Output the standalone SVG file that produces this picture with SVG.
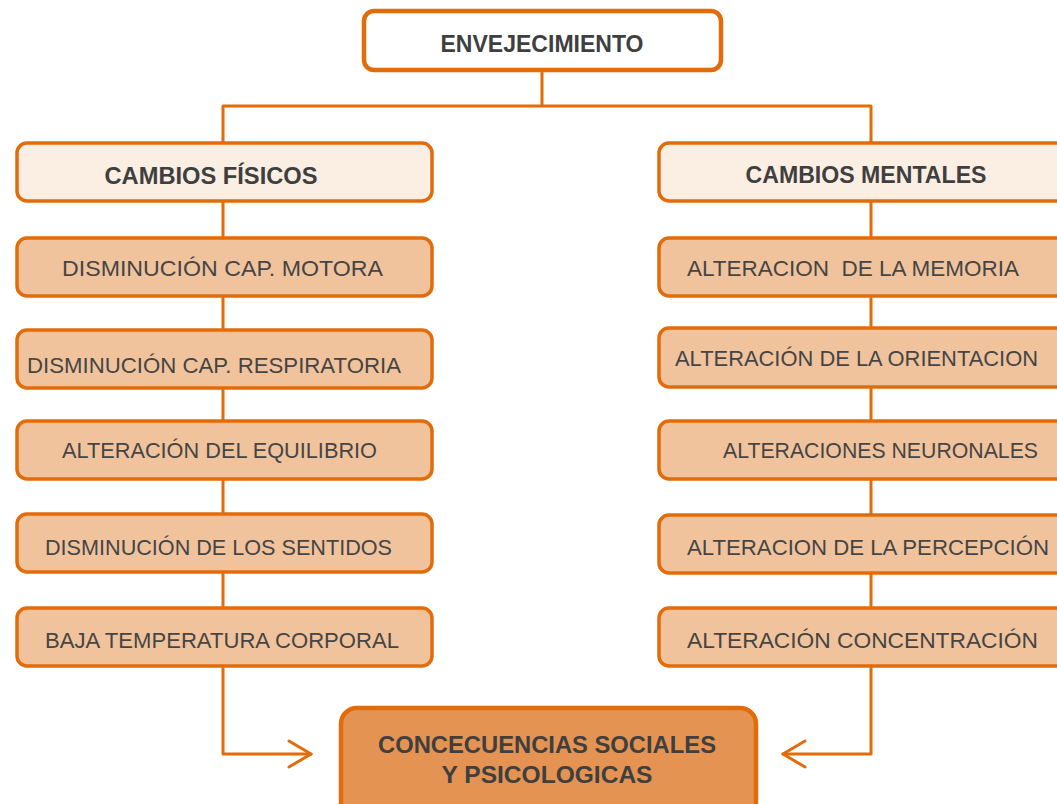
<svg xmlns="http://www.w3.org/2000/svg" width="1057" height="804" viewBox="0 0 1057 804">
<style>
.box{stroke:#E36C0A;stroke-width:3.5}
.hdr{fill:#FBEEE3}
.item{fill:#F0C39D}
.main{fill:#FFFFFF;stroke-width:4.5}
.out{fill:#E59352;stroke-width:4.5}
.conn{fill:none;stroke:#E36C0A;stroke-width:3;stroke-linecap:round;stroke-linejoin:round}
text{font-family:"Liberation Sans",Arial,sans-serif;fill:#454545}
.b{font-weight:bold;font-size:23px;fill:#3F3F3F}
.t{font-size:22px}
</style>
<rect width="1057" height="804" fill="#FFFFFF"/>
<g id="connectors">
<path class="conn" d="M542,71 V106 M223,106 H871 M223,106 V754 H311 M871,106 V754 H783"/>
<path class="conn" d="M289,741 L311,754 L289,767"/>
<path class="conn" d="M805,741 L783,754 L805,767"/>
</g>
<g id="envejecimiento">
<rect class="box main" x="364" y="11" width="357" height="59" rx="10"/>
<text class="b" x="542" y="52" text-anchor="middle" textLength="203" lengthAdjust="spacingAndGlyphs">ENVEJECIMIENTO</text>
</g>
<g id="cambios-fisicos">
<rect class="box hdr" x="17" y="143" width="415" height="58" rx="10"/>
<text class="b" x="211" y="184" text-anchor="middle" textLength="213" lengthAdjust="spacingAndGlyphs">CAMBIOS FÍSICOS</text>
</g>
<g id="cap-motora">
<rect class="box item" x="17" y="238" width="415" height="58" rx="10"/>
<text class="t" x="62" y="276" textLength="321" lengthAdjust="spacingAndGlyphs">DISMINUCIÓN CAP. MOTORA</text>
</g>
<g id="cap-respiratoria">
<rect class="box item" x="17" y="330" width="415" height="58" rx="10"/>
<text class="t" x="27" y="373" textLength="374" lengthAdjust="spacingAndGlyphs">DISMINUCIÓN CAP. RESPIRATORIA</text>
</g>
<g id="equilibrio">
<rect class="box item" x="17" y="421" width="415" height="58" rx="10"/>
<text class="t" x="62" y="458" textLength="315" lengthAdjust="spacingAndGlyphs">ALTERACIÓN DEL EQUILIBRIO</text>
</g>
<g id="sentidos">
<rect class="box item" x="17" y="514" width="415" height="58" rx="10"/>
<text class="t" x="45" y="555" textLength="347" lengthAdjust="spacingAndGlyphs">DISMINUCIÓN DE LOS SENTIDOS</text>
</g>
<g id="temperatura">
<rect class="box item" x="17" y="608" width="415" height="58" rx="10"/>
<text class="t" x="45" y="648" textLength="354" lengthAdjust="spacingAndGlyphs">BAJA TEMPERATURA CORPORAL</text>
</g>
<g id="cambios-mentales">
<rect class="box hdr" x="659" y="143" width="420" height="58" rx="10"/>
<text class="b" x="866" y="183" text-anchor="middle" textLength="241" lengthAdjust="spacingAndGlyphs">CAMBIOS MENTALES</text>
</g>
<g id="memoria">
<rect class="box item" x="659" y="238" width="420" height="58" rx="10"/>
<text class="t" x="687" y="276" textLength="332" lengthAdjust="spacingAndGlyphs" xml:space="preserve">ALTERACION  DE LA MEMORIA</text>
</g>
<g id="orientacion">
<rect class="box item" x="659" y="328" width="420" height="59" rx="10"/>
<text class="t" x="675" y="366" textLength="363" lengthAdjust="spacingAndGlyphs">ALTERACIÓN DE LA ORIENTACION</text>
</g>
<g id="neuronales">
<rect class="box item" x="659" y="421" width="420" height="58" rx="10"/>
<text class="t" x="723" y="458" textLength="315" lengthAdjust="spacingAndGlyphs">ALTERACIONES NEURONALES</text>
</g>
<g id="percepcion">
<rect class="box item" x="659" y="515" width="420" height="58" rx="10"/>
<text class="t" x="687" y="555" textLength="362" lengthAdjust="spacingAndGlyphs">ALTERACION DE LA PERCEPCIÓN</text>
</g>
<g id="concentracion">
<rect class="box item" x="659" y="608" width="420" height="58" rx="10"/>
<text class="t" x="687" y="648" textLength="351" lengthAdjust="spacingAndGlyphs">ALTERACIÓN CONCENTRACIÓN</text>
</g>
<g id="consecuencias">
<rect class="box out" x="341" y="708" width="415" height="110" rx="16"/>
<text class="b" x="547" y="753" text-anchor="middle" textLength="338" lengthAdjust="spacingAndGlyphs">CONCECUENCIAS SOCIALES</text>
<text class="b" x="547" y="783" text-anchor="middle" textLength="211" lengthAdjust="spacingAndGlyphs">Y PSICOLOGICAS</text>
</g>
</svg>
